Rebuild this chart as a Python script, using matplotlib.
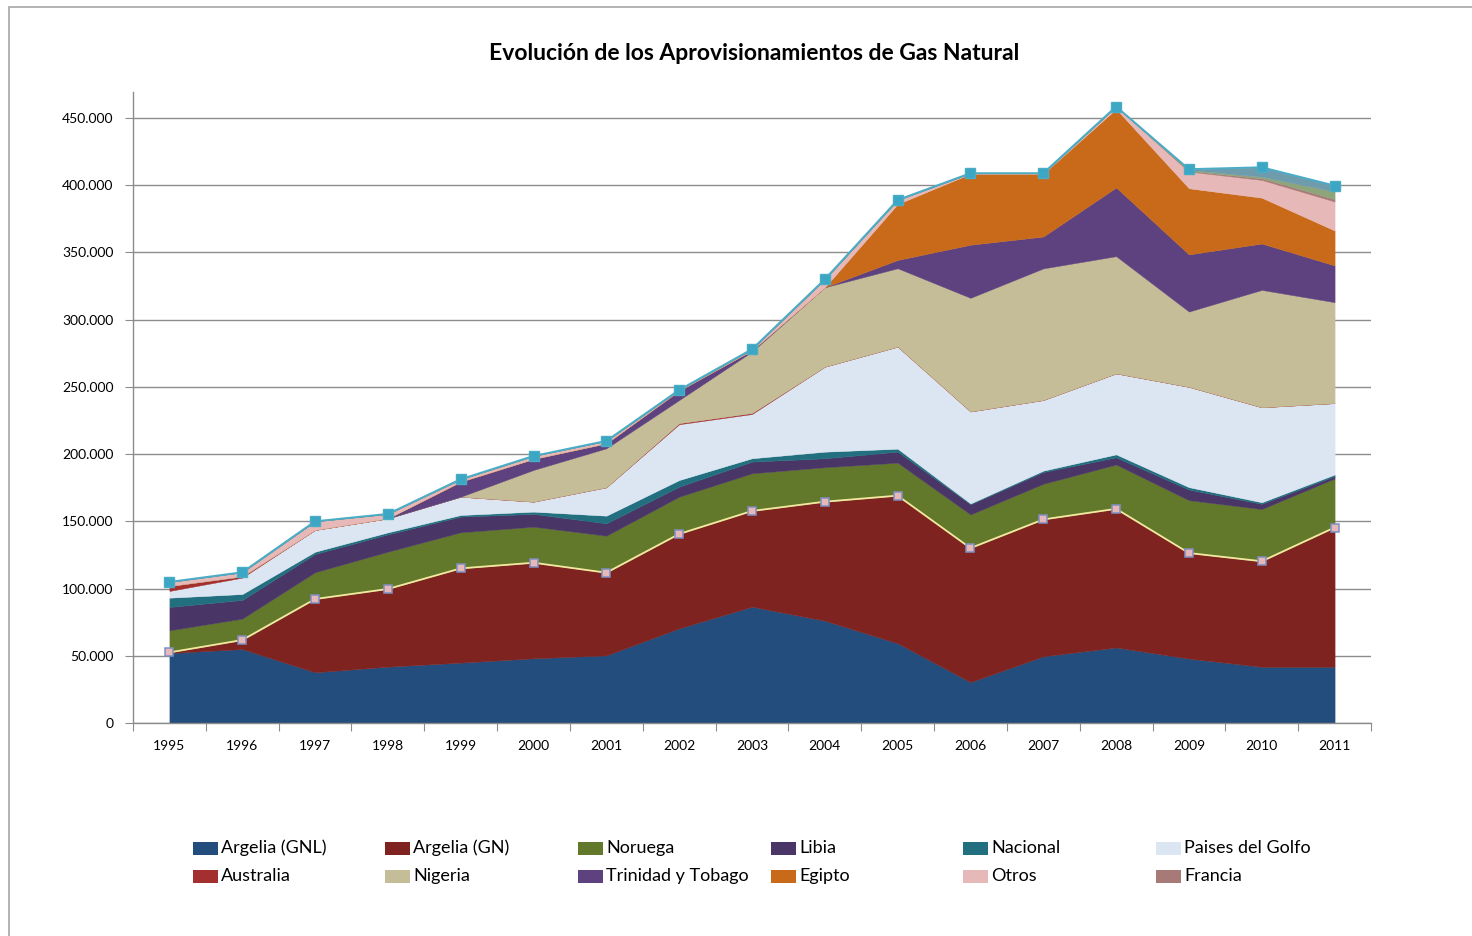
import numpy as np
import matplotlib
matplotlib.use("Agg")
import matplotlib.pyplot as plt
from matplotlib.patches import Rectangle
from matplotlib.ticker import FuncFormatter

plt.rcParams['font.family'] = ['Lato', 'DejaVu Sans']

years = [str(y) for y in range(1995, 2012)]

argelia_gnl = [52000, 55000, 37700, 41900, 44900, 48100, 50300, 70400, 86500, 76100, 59300, 30400, 49600, 56200, 47900, 41800, 41800]
argelia_gn = [500, 6700, 54500, 57800, 70100, 71100, 61500, 70200, 71200, 88500, 109800, 99700, 101800, 103100, 78500, 78500, 103600]
noruega = [16400, 15900, 19900, 27700, 26800, 26800, 27500, 27700, 28000, 25600, 24500, 25000, 26500, 32900, 39300, 38800, 36400]
libia = [17400, 13900, 13600, 12900, 11700, 9500, 9200, 7500, 8700, 6700, 8200, 7600, 8800, 5400, 7900, 3900, 1800]
nacional = [6900, 4400, 1700, 1500, 1200, 1700, 5700, 4900, 2500, 4900, 2200, 600, 1000, 2200, 1800, 1200, 1200]
paises_golfo = [5000, 12200, 16200, 10400, 13600, 7400, 21100, 41500, 32900, 63200, 75900, 68400, 52500, 60200, 74600, 70600, 53100]
australia = [3700, 1000, 0, 0, 0, 0, 0, 800, 800, 0, 0, 0, 0, 0, 0, 0, 0]
nigeria = [0, 0, 0, 0, 0, 23600, 29000, 17200, 45600, 59100, 58300, 84500, 97900, 87200, 56000, 87300, 75100]
trinidad = [0, 0, 0, 0, 11200, 8200, 3700, 7000, 1000, 0, 6200, 39500, 23700, 51100, 42500, 34500, 27300]
egipto = [0, 0, 0, 0, 0, 0, 0, 0, 0, 0, 41600, 52800, 46700, 58400, 49200, 34100, 26000]
otros = [3000, 3000, 6400, 3300, 1800, 2200, 1800, 500, 800, 5900, 3000, 400, 400, 1800, 12400, 13200, 21500]
francia = [0, 0, 0, 0, 0, 0, 0, 0, 0, 0, 0, 0, 0, 0, 500, 1200, 1800]
serie_13 = [0, 0, 0, 0, 0, 0, 0, 0, 0, 0, 0, 0, 0, 0, 800, 1200, 5700]
serie_14 = [0, 0, 0, 0, 0, 0, 0, 0, 0, 0, 0, 0, 0, 0, 500, 7000, 4400]

names = ["Argelia (GNL)", "Argelia (GN)", "Noruega", "Libia", "Nacional", "Paises del Golfo",
         "Australia", "Nigeria", "Trinidad y Tobago", "Egipto", "Otros", "Francia"]
series = [argelia_gnl, argelia_gn, noruega, libia, nacional, paises_golfo,
          australia, nigeria, trinidad, egipto, otros, francia, serie_13, serie_14]
colors = ["#234D7D", "#7E2320", "#62792B", "#4A3567", "#22707F", "#DCE6F2",
          "#A3302E", "#C4BD97", "#5E417F", "#C96A1B", "#E6B9B8", "#A87A77",
          "#8EA47A", "#6F9CAD"]

W, H = 1472, 936
fig = plt.figure(figsize=(W / 100, H / 100), dpi=100)
fig.patch.set_facecolor("white")

# outer chart frame
fig.add_artist(Rectangle((9 / W, -0.01), 1.1, 1 - 7 / H + 0.01, transform=fig.transFigure,
                         fill=False, edgecolor="#A6A6A6", linewidth=1.2))

ax = fig.add_axes([133 / W, 1 - 723 / H, (1371 - 133) / W, (723 - 92) / H])
x = np.arange(len(years))
ax.stackplot(x, *series, colors=colors, linewidth=0.3, edgecolor="face", zorder=2)

arr = np.array(series, dtype=float)
argelia_total = arr[0] + arr[1]
total = arr.sum(axis=0)
ax.plot(x, argelia_total, color="#F3E8A0", linewidth=1.3, marker="s", markersize=6,
        markerfacecolor="#E6B9B8", markeredgecolor="#7F8FC4", markeredgewidth=1.1, zorder=4)
ax.plot(x, total, color="#4BACC6", linewidth=1.4, marker="s", markersize=6.5,
        markerfacecolor="#3BA7C4", markeredgecolor="#4BACC6", zorder=5)

ax.set_xlim(-0.5, len(years) - 0.5)
ax.set_ylim(0, 469300)
ax.set_yticks(np.arange(0, 450001, 50000))
ax.yaxis.set_major_formatter(FuncFormatter(lambda v, p: f"{int(v):,}".replace(",", ".")))
ax.grid(axis="y", color="#8C8C8C", linewidth=1.0, zorder=0)
ax.set_axisbelow(True)

ax.set_xticks(np.arange(-0.5, len(years), 1))
ax.set_xticklabels([])
ax.set_xticks(x, minor=True)
ax.set_xticklabels(years, minor=True)
ax.tick_params(axis="x", which="major", length=6, color="#8C8C8C", direction="out")
ax.tick_params(axis="x", which="minor", length=0, pad=12, labelsize=10)
ax.tick_params(axis="y", length=6, color="#8C8C8C", direction="out", labelsize=10, pad=8)

for s in ["top", "right"]:
    ax.spines[s].set_visible(False)
for s in ["left", "bottom"]:
    ax.spines[s].set_color("#8C8C8C")
    ax.spines[s].set_linewidth(1.0)

fig.text(754 / W, 1 - 53 / H, "Evolución de los Aprovisionamientos de Gas Natural",
         ha="center", va="center", fontsize=16.5, fontweight="bold")

# legend (row-major, 6 columns)
col_x = [193, 385, 578, 771, 963, 1156]
row_y = [848, 876]
for i, name in enumerate(names):
    r, c = divmod(i, 6)
    px, py = col_x[c], row_y[r]
    fig.add_artist(Rectangle((px / W, 1 - (py + 6.5) / H), 25 / W, 13 / H,
                             transform=fig.transFigure, facecolor=colors[i], edgecolor="none"))
    fig.text((px + 28) / W, 1 - py / H, name, ha="left", va="center", fontsize=13)

fig.savefig("out.png", dpi=100, facecolor="white")
